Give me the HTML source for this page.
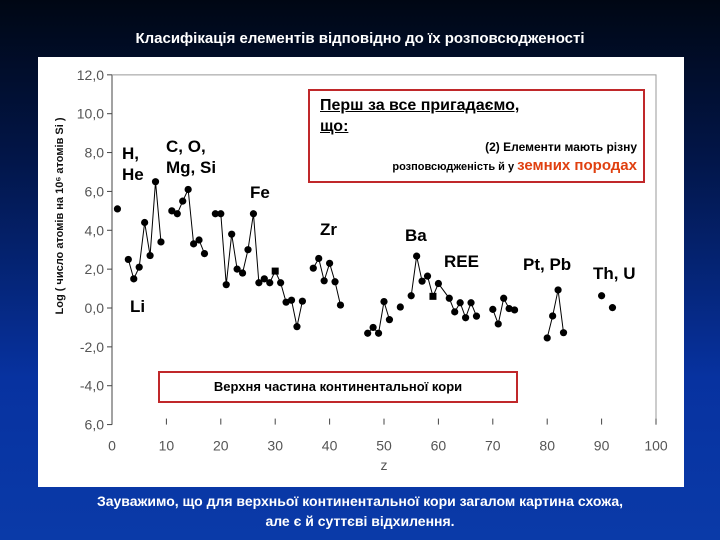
<!DOCTYPE html>
<html><head><meta charset="utf-8"><style>
html,body{margin:0;padding:0}
body{width:720px;height:540px;overflow:hidden;background:linear-gradient(180deg,#000714 0%,#02164a 30%,#0732a0 70%,#0a3aa8 100%);font-family:"Liberation Sans","DejaVu Sans",sans-serif;position:relative}
.t{position:absolute;white-space:nowrap}
</style></head><body>
<div class="t" style="left:0;width:720px;top:30px;text-align:center;color:#fff;font-weight:bold;font-size:15px">Класифікація елементів відповідно до їх розповсюдженості</div>
<div style="position:absolute;left:38px;top:57px;width:646px;height:430px;background:#fff"></div>
<svg id="chart" width="720" height="540" style="position:absolute;left:0;top:0" font-family="Liberation Sans, sans-serif"></svg>
<div class="t" style="left:0;width:720px;top:491px;text-align:center;color:#fff;font-weight:bold;font-size:14px;line-height:20px">Зауважимо, що для верхньої континентальної кори загалом картина схожа,<br>але є й суттєві відхилення.</div>
<script>
const zValues=[1,null,3,4,5,6,7,8,9,null,11,12,13,14,15,16,17,null,19,20,21,22,23,24,25,26,27,28,29,30,31,32,33,34,35,null,37,38,39,40,41,42,null,47,48,49,50,51,null,53,null,55,56,57,58,59,60,62,63,64,65,66,67,null,70,71,72,73,74,null,80,81,82,83,null,90,null,92];
const logAbund=[5.1,null,2.5,1.5,2.1,4.4,2.7,6.5,3.4,null,5.0,4.85,5.5,6.1,3.3,3.5,2.8,null,4.85,4.85,1.2,3.8,2.0,1.8,3.0,4.85,1.3,1.5,1.3,1.9,1.3,0.3,0.4,-0.96,0.35,null,2.05,2.55,1.4,2.3,1.35,0.15,null,-1.3,-1.0,-1.3,0.33,-0.6,null,0.05,null,0.63,2.67,1.38,1.64,0.6,1.26,0.5,-0.2,0.27,-0.5,0.27,-0.42,null,-0.07,-0.82,0.5,-0.03,-0.1,null,-1.54,-0.41,0.93,-1.27,null,0.63,null,0.02];
const yTicks=[12,10,8,6,4,2,0,-2,-4,-6];
const yTickLabels=["12,0","10,0","8,0","6,0","4,0","2,0","0,0","-2,0","-4,0","6,0"];
const xTicks=[0,10,20,30,40,50,60,70,80,90,100];
const squareZ=[30,59];
const NS='http://www.w3.org/2000/svg';
const svg=document.getElementById('chart');
const X=z=>112+z*5.44;
const Y=v=>308-v*19.43;
function mk(tag,attrs,parent){const e=document.createElementNS(NS,tag);for(const k in attrs)e.setAttribute(k,attrs[k]);(parent||svg).appendChild(e);return e;}
// frame
let a=mk('line',{x1:X(0),y1:Y(12),x2:X(0),y2:Y(-6),stroke:'#444','stroke-width':1});


a=mk('polyline',{points:`${X(0)},${Y(12)} ${X(100)},${Y(12)} ${X(100)},${Y(-6)}`,fill:'none',stroke:'#999','stroke-width':1});


yTicks.forEach((v,i)=>{
  const tk=mk('line',{x1:X(0)-5,y1:Y(v),x2:X(0),y2:Y(v),stroke:'#444'});
  
  
  const t=mk('text',{x:X(0)-8,y:Y(v)+5,'text-anchor':'end','font-size':14,fill:'#555'});
  t.textContent=yTickLabels[i];
  
  
});
xTicks.forEach(z=>{
  const tk=mk('line',{x1:X(z),y1:Y(-6)-6,x2:X(z),y2:Y(-6),stroke:'#444'});
  
  
  const t=mk('text',{x:X(z),y:Y(-6)+26,'text-anchor':'middle','font-size':14,fill:'#555'});
  t.textContent=String(z);
  
  
});
let xl=mk('text',{x:X(50),y:470,'text-anchor':'middle','font-size':14,fill:'#555'});
xl.textContent='z';


let yl=mk('text',{x:0,y:0,'text-anchor':'middle','font-size':11,'font-weight':'bold',fill:'#111',transform:'translate(63,216) rotate(-90)'});
yl.textContent='Log  ( число атомів на 10⁶ атомів Si )';


// line segments
let seg=[];
const segs=[];
zValues.forEach((z,i)=>{if(z===null||logAbund[i]===null){if(seg.length)segs.push(seg);seg=[];}else seg.push([X(z),Y(logAbund[i])]);});
if(seg.length)segs.push(seg);
segs.forEach(s=>{if(s.length>1){const p=mk('polyline',{points:s.map(q=>q.join(',')).join(' '),fill:'none',stroke:'#000','stroke-width':1});

}});
zValues.forEach((z,i)=>{
  if(z===null||logAbund[i]===null)return;
  const cx=X(z),cy=Y(logAbund[i]);
  let m;
  if(squareZ.includes(z))m=mk('rect',{x:cx-3.5,y:cy-3.5,width:7,height:7,fill:'#000'});
  else m=mk('circle',{cx:cx,cy:cy,r:3.6,fill:'#000'});
  
  
});
</script>
<div class="t" style="left:122px;top:143px;font-weight:bold;font-size:17px;line-height:21px;color:#000">H,<br>He</div>
<div class="t" style="left:166px;top:136px;font-weight:bold;font-size:17px;line-height:21px;color:#000">C, O,<br>Mg, Si</div>
<div class="t" style="left:250px;top:183px;font-weight:bold;font-size:17px;color:#000">Fe</div>
<div class="t" style="left:320px;top:220px;font-weight:bold;font-size:17px;color:#000">Zr</div>
<div class="t" style="left:405px;top:226px;font-weight:bold;font-size:17px;color:#000">Ba</div>
<div class="t" style="left:444px;top:252px;font-weight:bold;font-size:17px;color:#000">REE</div>
<div class="t" style="left:523px;top:255px;font-weight:bold;font-size:17px;color:#000">Pt, Pb</div>
<div class="t" style="left:593px;top:264px;font-weight:bold;font-size:17px;color:#000">Th, U</div>
<div class="t" style="left:130px;top:297px;font-weight:bold;font-size:17px;color:#000">Li</div>
<div style="position:absolute;left:308px;top:89px;width:333px;height:90px;border:2px solid #c0282a;background:#fff">
<div class="t" style="left:10px;top:4px;font-weight:bold;font-size:16px;line-height:21px;text-decoration:underline;color:#000">Перш за все пригадаємо,<br>що:</div>
<div class="t" style="right:6px;top:49px;font-weight:bold;font-size:12px;color:#000">(2) Елементи мають різну</div>
<div class="t" style="right:6px;top:66px;font-weight:bold;font-size:11px;color:#000">розповсюдженість й у <span style="color:#e04010;font-size:15px">земних породах</span></div>
</div>
<div style="position:absolute;left:158px;top:371px;width:356px;height:28px;border:2px solid #c0282a;background:#fff;text-align:center;line-height:28px;font-weight:bold;font-size:13px;color:#000">Верхня частина континентальної кори</div>
</body></html>
